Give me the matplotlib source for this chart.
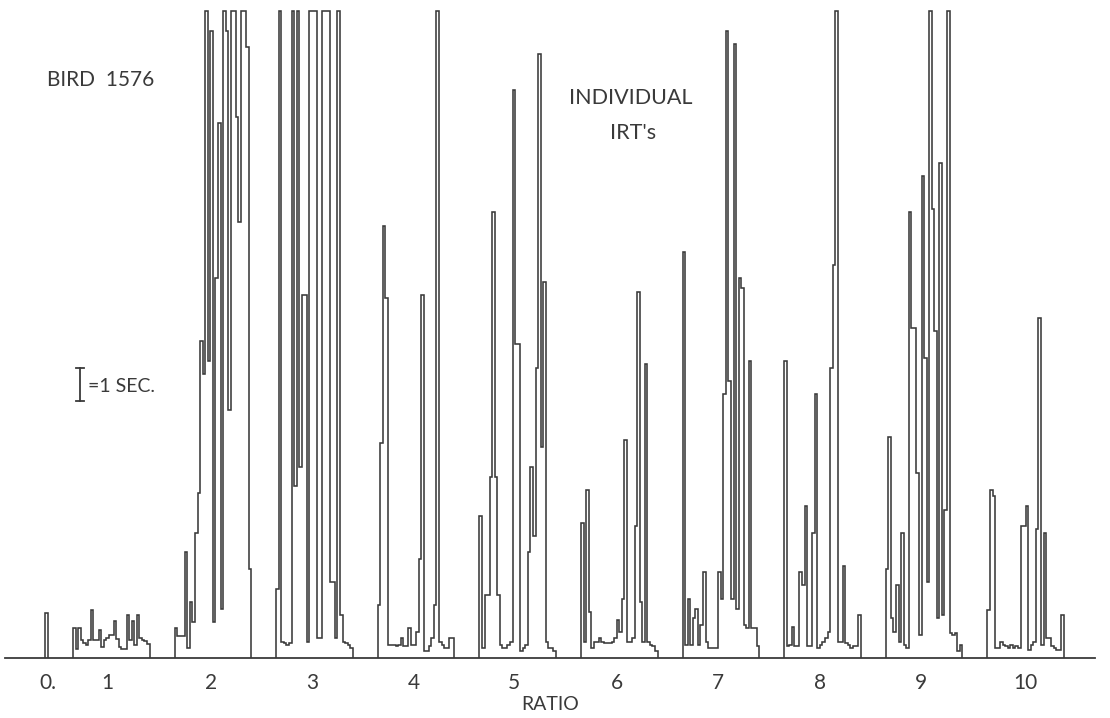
#!/usr/bin/env python3

# Individual IRT's for bird 1576, one step trace per ratio
import numpy as np
import matplotlib
matplotlib.use("Agg")
import matplotlib.pyplot as plt

# IRT values in seconds, in response order, one list per ratio
ratio_labels = ["0.", "1", "2", "3", "4", "5", "6", "7", "8", "9", "10"]

irt_r0 = [1.36]
irt_r1 = [0.91, 0.28, 0.91, 0.54, 0.45, 0.40, 0.54, 1.44, 0.54, 0.54,
          0.84, 0.33, 0.54, 0.61, 0.69, 0.69, 1.11, 0.59, 0.33, 0.28,
          0.28, 1.29, 0.54, 1.11, 0.38, 1.29, 0.61, 0.56, 0.51, 0.42]
irt_r2 = [0.9, 0.67, 0.67, 0.67, 3.2, 0.3, 1.7, 1.1, 3.8, 5.0,
          9.6, 8.6, 19.6, 9.0, 19.0, 1.1, 11.5, 16.2, 1.5, 19.6,
          19.0, 7.5, 19.6, 19.6, 16.4, 13.2, 19.6, 19.6, 18.5, 2.7]
irt_r3 = [2.1, 19.6, 0.5, 0.45, 0.4, 0.45, 19.6, 5.2, 19.6, 5.8,
          11.0, 11.0, 0.5, 19.6, 19.6, 19.6, 0.6, 0.6, 19.6, 19.6,
          19.6, 2.3, 2.3, 0.6, 19.6, 1.3, 0.5, 0.45, 0.4, 0.3]
irt_r4 = [1.6, 6.5, 13.1, 10.9, 0.4, 0.4, 0.4, 0.35, 0.4, 0.6,
          0.35, 0.35, 0.9, 0.4, 0.4, 0.8, 3.0, 11.0, 0.2, 0.2,
          0.35, 0.6, 1.6, 19.6, 0.5, 0.4, 0.3, 0.3, 0.6, 0.6]
irt_r5 = [4.3, 0.3, 1.9, 1.9, 5.5, 13.5, 5.5, 1.9, 0.4, 0.3,
          0.3, 0.4, 0.5, 17.2, 9.5, 9.5, 0.2, 0.3, 0.4, 3.2,
          5.8, 3.7, 8.8, 18.3, 6.4, 11.4, 0.5, 0.3, 0.3, 0.2]
irt_r6 = [4.1, 0.5, 5.1, 1.4, 0.3, 0.5, 0.5, 0.6, 0.5, 0.45,
          0.45, 0.45, 0.5, 0.6, 1.15, 0.8, 1.8, 6.6, 0.5, 0.5,
          0.6, 4.0, 11.1, 1.7, 0.5, 8.9, 0.5, 0.4, 0.35, 0.2]
irt_r7 = [12.3, 0.4, 1.8, 0.4, 1.2, 1.5, 0.4, 1.0, 2.6, 0.5,
          0.3, 0.3, 0.3, 0.3, 2.6, 1.8, 8.0, 19.0, 8.4, 1.8,
          18.6, 1.5, 11.5, 11.2, 1.0, 0.9, 9.0, 0.9, 0.9, 0.35]
irt_r8 = [9.0, 0.35, 0.4, 0.95, 0.35, 0.35, 2.6, 2.2, 4.6, 0.35,
          0.35, 3.8, 8.0, 0.3, 0.4, 0.5, 0.6, 0.8, 8.8, 11.9,
          19.6, 0.5, 0.5, 2.8, 0.45, 0.4, 0.3, 0.35, 0.35, 1.3]
irt_r9 = [2.7, 6.7, 1.2, 0.8, 2.2, 0.5, 3.8, 0.4, 0.3, 13.5,
          10.0, 10.0, 5.6, 0.7, 14.6, 9.1, 2.3, 19.6, 13.6, 9.9,
          1.2, 15.0, 1.3, 4.5, 19.6, 0.75, 0.7, 0.75, 0.2, 0.4]
irt_r10 = [1.45, 5.1, 4.9, 0.3, 0.3, 0.5, 0.4, 0.35, 0.3, 0.4,
           0.3, 0.35, 0.3, 4.0, 4.0, 4.6, 0.25, 0.4, 0.5, 3.9,
           10.3, 0.4, 3.8, 0.6, 0.6, 0.35, 0.3, 0.25, 0.25, 1.3]

irt_blocks = [irt_r0, irt_r1, irt_r2, irt_r3, irt_r4, irt_r5,
              irt_r6, irt_r7, irt_r8, irt_r9, irt_r10]

# layout (x in picture pixels, y in seconds)
SEC_PX = 33.0
tick_x = [48, 107, 211, 312, 414, 514, 617, 718, 820, 921, 1025]
block0_start = 45
block_start = 73
block_step = 101.6
block_width = 76.5
ink = "#3a3a3a"

plt.rcParams["font.family"] = ["Lato", "DejaVu Sans"]

fig = plt.figure(figsize=(11.1, 7.18), dpi=100)
ax = fig.add_axes([5 / 1110, 60 / 718, 1090 / 1110, 658 / 718])
ax.set_xlim(5, 1095)
ax.set_ylim(0, 658 / SEC_PX)

for k, vals in enumerate(irt_blocks):
    n = len(vals)
    if k == 0:
        edges = block0_start + np.arange(n + 1) * 3.0
    else:
        x0 = block_start + (k - 1) * block_step
        edges = x0 + np.arange(n + 1) * (block_width / n)
    ax.stairs(vals, edges, baseline=0, fill=False, color=ink, lw=1.15)

for s in ["left", "right", "top"]:
    ax.spines[s].set_visible(False)
ax.spines["bottom"].set_color(ink)
ax.spines["bottom"].set_linewidth(1.3)
ax.set_yticks([])
ax.set_xticks(tick_x)
ax.set_xticklabels(ratio_labels, fontsize=15, color=ink)
ax.tick_params(axis="x", length=0, pad=11)
ax.set_xlabel("RATIO", fontsize=14, color=ink, labelpad=2)

# annotations, placed in picture pixel coordinates
def px(x, y):
    return x, (658 - y) / SEC_PX

tkw = dict(color=ink, va="center")
ax.text(*px(47, 80), "BIRD  1576", fontsize=15, ha="left", **tkw)
ax.text(*px(631, 98), "INDIVIDUAL", fontsize=15.5, ha="center", **tkw)
ax.text(*px(633, 133), "IRT's", fontsize=15.5, ha="center", **tkw)

# 1 second scale bar
bx = 80
ytop = px(0, 368)[1]
ax.plot([bx, bx], [ytop, ytop - 1.0], color=ink, lw=1.3)
ax.plot([bx - 4, bx + 4], [ytop, ytop], color=ink, lw=1.3)
ax.plot([bx - 4, bx + 4], [ytop - 1.0, ytop - 1.0], color=ink, lw=1.3)
ax.text(*px(88, 387), "=1 SEC.", fontsize=14, ha="left", **tkw)

fig.savefig("out.png", dpi=100)
